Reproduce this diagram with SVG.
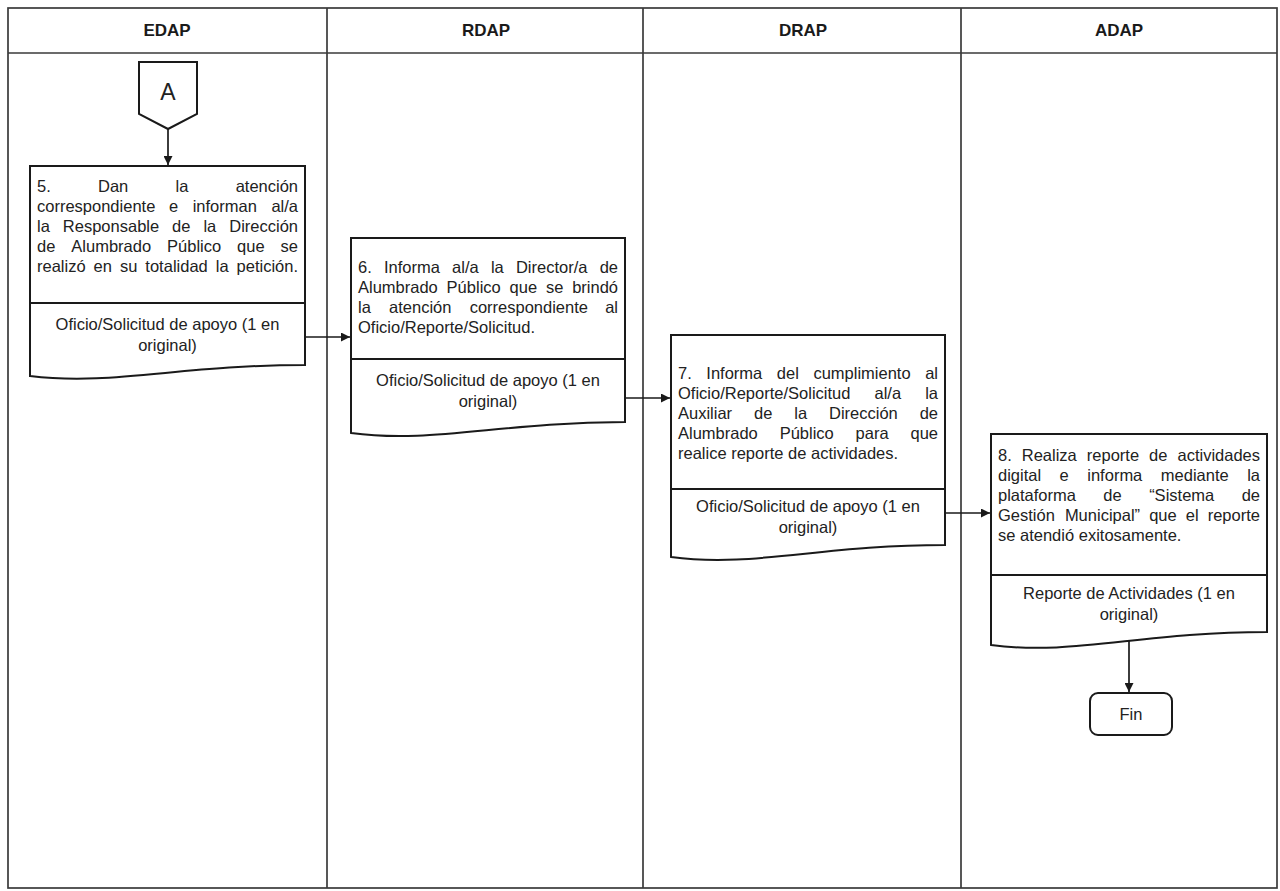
<svg xmlns="http://www.w3.org/2000/svg" width="1280" height="891" viewBox="0 0 1280 891">
<defs>
<style>
.grid{stroke:#3a3a3a;stroke-width:1.7;fill:none}
.box{stroke:#1a1a1a;stroke-width:2;fill:#fff}
.div{stroke:#1a1a1a;stroke-width:1.8}
.con{stroke:#1a1a1a;stroke-width:1.7;fill:none}
.t{font-family:"Liberation Sans",Arial,sans-serif;font-size:16.5px;fill:#222}
.c{text-anchor:middle}
.h{font-family:"Liberation Sans",Arial,sans-serif;font-size:17px;font-weight:bold;fill:#1a1a1a;text-anchor:middle}
</style>
<marker id="ah" viewBox="0 0 10 10" refX="10" refY="5" markerWidth="10" markerHeight="9" markerUnits="userSpaceOnUse" orient="auto">
<path d="M0,0 L10,5 L0,10 z" fill="#1a1a1a"/>
</marker>
</defs>
<rect width="1280" height="891" fill="#fff"/>
<g id="table">
<rect class="grid" x="8" y="8" width="1269" height="880"/>
<line class="grid" x1="8" y1="53" x2="1277" y2="53"/>
<line class="grid" x1="327" y1="8" x2="327" y2="888"/>
<line class="grid" x1="643" y1="8" x2="643" y2="888"/>
<line class="grid" x1="961" y1="8" x2="961" y2="888"/>
<text class="h" x="167" y="36">EDAP</text>
<text class="h" x="486" y="36">RDAP</text>
<text class="h" x="803" y="36">DRAP</text>
<text class="h" x="1119" y="36">ADAP</text>
</g>
<g id="connectors">
<line class="con" x1="168" y1="129" x2="168" y2="165" marker-end="url(#ah)"/>
<line class="con" x1="305" y1="337" x2="350" y2="337" marker-end="url(#ah)"/>
<line class="con" x1="625" y1="398" x2="670" y2="398" marker-end="url(#ah)"/>
<line class="con" x1="945" y1="513" x2="990" y2="513" marker-end="url(#ah)"/>
<line class="con" x1="1129" y1="640" x2="1129" y2="692" marker-end="url(#ah)"/>
</g>
<g id="nodeA">
<path class="box" d="M139,62 H197 V114 L168,129 L139,114 Z"/>
<text class="t c" x="168" y="100" style="font-size:23px">A</text>
</g>
<g id="node5">
<path class="box" d="M30,166 H305 V365 C181,365 112,386 30,376 Z"/>
<line class="div" x1="30" y1="303" x2="305" y2="303"/>
<text class="t" y="192"><tspan x="37">5.</tspan><tspan x="98.02">Dan</tspan><tspan x="175.54">la</tspan><tspan x="235.64">atención</tspan></text>
<text class="t" y="212"><tspan x="37">correspondiente</tspan><tspan x="168.89">e</tspan><tspan x="192.63">informan</tspan><tspan x="271.39">al/a</tspan></text>
<text class="t" y="232"><tspan x="37">la</tspan><tspan x="62.84">Responsable</tspan><tspan x="172.07">de</tspan><tspan x="203.42">la</tspan><tspan x="229.26">Dirección</tspan></text>
<text class="t" y="252"><tspan x="37">de</tspan><tspan x="71.31">Alumbrado</tspan><tspan x="167.05">Público</tspan><tspan x="237.11">que</tspan><tspan x="280.59">se</tspan></text>
<text class="t" y="272"><tspan x="37">realizó</tspan><tspan x="93.59">en</tspan><tspan x="119.94">su</tspan><tspan x="145.36">totalidad</tspan><tspan x="215.73">la</tspan><tspan x="236.57">petición.</tspan></text>
<text class="t c" x="167.5" y="330">Oficio/Solicitud de apoyo (1 en</text>
<text class="t c" x="167.5" y="351">original)</text>
</g>
<g id="node6">
<path class="box" d="M351,238 H625 V422 C501,422 432,444 351,433 Z"/>
<line class="div" x1="351" y1="359" x2="625" y2="359"/>
<text class="t" y="273"><tspan x="358">6.</tspan><tspan x="383.96">Informa</tspan><tspan x="452.1">al/a</tspan><tspan x="490.9">la</tspan><tspan x="515.94">Director/a</tspan><tspan x="599.65">de</tspan></text>
<text class="t" y="293"><tspan x="358">Alumbrado</tspan><tspan x="446.61">Público</tspan><tspan x="509.54">que</tspan><tspan x="545.89">se</tspan><tspan x="572.14">brindó</tspan></text>
<text class="t" y="313"><tspan x="358">la</tspan><tspan x="389.05">atención</tspan><tspan x="469.63">correspondiente</tspan><tspan x="605.16">al</tspan></text>
<text class="t" x="358" y="333">Oficio/Reporte/Solicitud.</text>
<text class="t c" x="488" y="386">Oficio/Solicitud de apoyo (1 en</text>
<text class="t c" x="488" y="407">original)</text>
</g>
<g id="node7">
<path class="box" d="M671,335 H945 V545 C821,545 752,568 671,557 Z"/>
<line class="div" x1="671" y1="489" x2="945" y2="489"/>
<text class="t" y="379"><tspan x="678">7.</tspan><tspan x="706.33">Informa</tspan><tspan x="776.84">del</tspan><tspan x="813.42">cumplimiento</tspan><tspan x="925.18">al</tspan></text>
<text class="t" y="399"><tspan x="678">Oficio/Reporte/Solicitud</tspan><tspan x="874.48">al/a</tspan><tspan x="925.17">la</tspan></text>
<text class="t" y="419"><tspan x="678">Auxiliar</tspan><tspan x="753.99">de</tspan><tspan x="794.24">la</tspan><tspan x="828.98">Dirección</tspan><tspan x="919.64">de</tspan></text>
<text class="t" y="439"><tspan x="678">Alumbrado</tspan><tspan x="779.64">Público</tspan><tspan x="855.6">para</tspan><tspan x="910.48">que</tspan></text>
<text class="t" x="678" y="459">realice reporte de actividades.</text>
<text class="t c" x="808" y="512">Oficio/Solicitud de apoyo (1 en</text>
<text class="t c" x="808" y="533">original)</text>
</g>
<g id="node8">
<path class="box" d="M991,434 H1267 V632 C1142,632 1072,656 991,645 Z"/>
<line class="div" x1="991" y1="575" x2="1267" y2="575"/>
<text class="t" y="461"><tspan x="998">8.</tspan><tspan x="1021.78">Realiza</tspan><tspan x="1086.81">reporte</tspan><tspan x="1149.1">de</tspan><tspan x="1177.47">actividades</tspan></text>
<text class="t" y="481"><tspan x="998">digital</tspan><tspan x="1059.61">e</tspan><tspan x="1087.29">informa</tspan><tspan x="1160.81">mediante</tspan><tspan x="1247.18">la</tspan></text>
<text class="t" y="501"><tspan x="998">plataforma</tspan><tspan x="1103.37">de</tspan><tspan x="1149.14">“Sistema</tspan><tspan x="1241.65">de</tspan></text>
<text class="t" y="521"><tspan x="998">Gestión</tspan><tspan x="1064.88">Municipal”</tspan><tspan x="1149.15">que</tspan><tspan x="1185.77">el</tspan><tspan x="1207.71">reporte</tspan></text>
<text class="t" x="998" y="541">se atendió exitosamente.</text>
<text class="t c" x="1129" y="599">Reporte de Actividades (1 en</text>
<text class="t c" x="1129" y="620">original)</text>
</g>
<g id="fin">
<rect class="box" x="1090" y="693" width="82" height="42" rx="8"/>
<text class="t c" x="1131" y="720">Fin</text>
</g>
</svg>
